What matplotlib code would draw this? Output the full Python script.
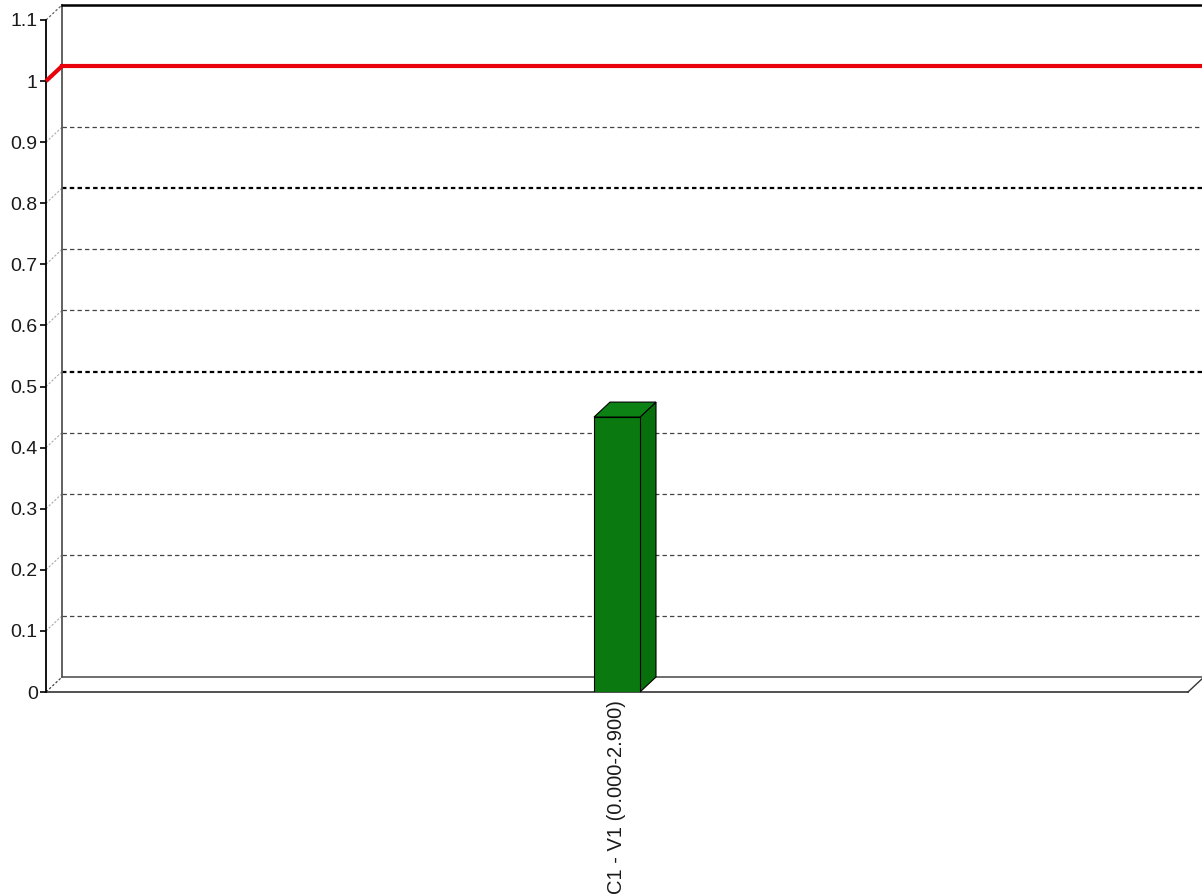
import matplotlib.pyplot as plt
import matplotlib.transforms as mtransforms
from matplotlib.patches import Polygon
import numpy as np

plt.rcParams['font.family'] = ['Liberation Sans', 'DejaVu Sans']

categories = ['C1 - V1 (0.000-2.900)']
values = [0.45]
limit = 1.0
yticks = [0, 0.1, 0.2, 0.3, 0.4, 0.5, 0.6, 0.7, 0.8, 0.9, 1.0, 1.1]
ytick_labels = ['0', '0.1', '0.2', '0.3', '0.4', '0.5', '0.6', '0.7', '0.8', '0.9', '1', '1.1']

green = '#0a7a10'
depth = np.array([16, 15])  # pseudo-3d offset of the back wall, in pixels

fig = plt.figure(figsize=(12.02, 8.96), dpi=100)
ax = fig.add_axes([46/1202, 204/896, 1142/1202, 672/896])
ax.set_xlim(-0.5, 0.5)
ax.set_ylim(0, 1.1)
ax.patch.set_visible(False)
for s in ['top', 'right', 'bottom']:
    ax.spines[s].set_visible(False)
ax.spines['left'].set_linewidth(1.3)

back = mtransforms.offset_copy(ax.transData, fig=fig, x=depth[0], y=depth[1], units='dots')
ident = mtransforms.IdentityTransform()


def disp(x, y, d=0):
    return ax.transData.transform((x, y)) + d * depth


def link(x, y, **kw):
    p0, p1 = disp(x, y), disp(x, y, 1)
    ax.plot([p0[0], p1[0]], [p0[1], p1[1]], transform=ident, clip_on=False, **kw)


# back wall grid
for v in yticks[1:-2]:
    strong = v in (0.5, 0.8)
    ax.plot([-0.5, 0.6], [v, v], transform=back, clip_on=False,
            color='black' if strong else '#444',
            lw=1.6 if strong else 0.9,
            ls=(0, (2, 1.5)) if strong else (0, (3.5, 2.5)), zorder=1)
    link(-0.5, v, color='#aaa', lw=0.8, ls=(0, (2, 1.5)), zorder=1)

# wall and floor outlines
ax.plot([-0.5, -0.5], [0, 1.1], transform=back, clip_on=False, color='#555', lw=1.3, zorder=2)
ax.plot([-0.5, 0.6], [1.1, 1.1], transform=back, clip_on=False, color='black', lw=1.8, zorder=2)
ax.plot([-0.5, 0.6], [0, 0], transform=back, clip_on=False, color='#555', lw=1.2, zorder=2)
ax.plot([-0.5, 0.5], [0, 0], clip_on=False, color='#333', lw=1.2, zorder=2)
link(-0.5, 1.1, color='#666', lw=0.9, ls=(0, (2, 1.5)), zorder=2)
link(-0.5, 0, color='#444', lw=0.9, ls=(0, (2, 1.5)), zorder=2)
link(0.5, 0, color='#333', lw=1.0, zorder=2)

# limit line
link(-0.5, limit, color='#e8000b', lw=3, solid_capstyle='butt', zorder=4)
ax.plot([-0.5, 0.6], [limit, limit], transform=back, clip_on=False,
        color='#e8000b', lw=3, zorder=4)

# bars with side and top faces
bar_w = 46 / 1142
xs = np.arange(len(categories))
ax.bar(xs, values, width=bar_w, color=green, edgecolor='black', lw=0.8, zorder=6)
for x, v in zip(xs, values):
    l, r = x - bar_w / 2, x + bar_w / 2
    top = [disp(l, v), disp(r, v), disp(r, v, 1), disp(l, v, 1)]
    side = [disp(r, 0), disp(r, v), disp(r, v, 1), disp(r, 0, 1)]
    ax.add_patch(Polygon(side, closed=True, transform=ident, clip_on=False,
                         facecolor='#07700d', edgecolor='black', lw=0.8, zorder=5))
    ax.add_patch(Polygon(top, closed=True, transform=ident, clip_on=False,
                         facecolor='#0c8214', edgecolor='black', lw=0.8, zorder=5))

ax.set_yticks(yticks)
ax.set_yticklabels(ytick_labels)
ax.tick_params(axis='y', length=4, width=1.2, pad=2, labelsize=14, labelcolor='#1a1a1a')
ax.set_xticks(xs)
ax.set_xticklabels(categories, rotation=90, va='top', ha='center')
ax.tick_params(axis='x', length=0, pad=6, labelsize=14.5, labelcolor='#1a1a1a')

fig.savefig('out.png', dpi=100)
